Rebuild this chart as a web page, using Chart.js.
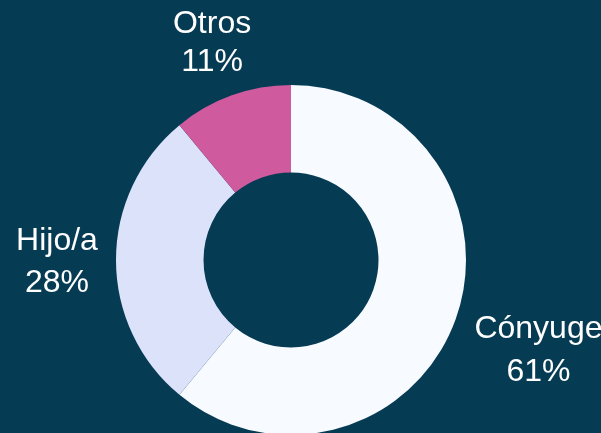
<!DOCTYPE html>
<html>
<head>
<meta charset="utf-8">
<script src="https://cdn.jsdelivr.net/npm/chart.js@4/dist/chart.umd.min.js"></script>
<style>
  html, body { margin: 0; padding: 0; background: #063b54; overflow: hidden; }
  #wrap { position: relative; width: 601px; height: 437px; }
</style>
</head>
<body>
<div id="wrap"><canvas id="donutChart"></canvas></div>
<script>
// Data
const categories = ['Cónyuge', 'Hijo/a', 'Otros'];
const shares = [61, 28, 11];
const sliceColors = ['#f7fafe', '#dce2f9', '#cf5a9e'];

// Draws the two-line labels outside each slice
const outsideLabels = {
    id: 'outsideLabels',
    afterDatasetsDraw(chart, args, opts) {
        const ctx = chart.ctx;
        const arcs = chart.getDatasetMeta(0).data;
        ctx.save();
        ctx.fillStyle = opts.color;
        ctx.font = opts.font;
        ctx.textAlign = 'center';
        ctx.textBaseline = 'middle';
        arcs.forEach((arc, i) => {
            const p = arc.getProps(['x', 'y', 'startAngle', 'endAngle', 'outerRadius'], true);
            const mid = (p.startAngle + p.endAngle) / 2;
            const dist = p.outerRadius + opts.pad[i];
            const cx = p.x + Math.cos(mid) * dist;
            const cy = p.y + Math.sin(mid) * dist + opts.dy;
            ctx.fillText(categories[i], cx, cy - opts.lineGap[i] / 2);
            ctx.fillText(shares[i] + '%', cx, cy + opts.lineGap[i] / 2);
        });
        ctx.restore();
    }
};

const ctx = document.getElementById('donutChart').getContext('2d');
new Chart(ctx, {
    type: 'doughnut',
    data: {
        labels: categories,
        datasets: [{
            data: shares,
            backgroundColor: sliceColors,
            borderWidth: 0,
            hoverOffset: 0
        }]
    },
    options: {
        responsive: true,
        maintainAspectRatio: false,
        animation: false,
        cutout: '50%',
        layout: {
            padding: { left: 116, right: 135, top: 85, bottom: 2 }
        },
        plugins: {
            legend: { display: false },
            tooltip: { enabled: false },
            outsideLabels: {
                color: '#ffffff',
                font: "32px 'Liberation Sans', Arial, sans-serif",
                lineGap: [43, 42, 38],
                dy: 2,
                pad: [88, 59, 58]
            }
        }
    },
    plugins: [outsideLabels]
});
</script>
</body>
</html>
